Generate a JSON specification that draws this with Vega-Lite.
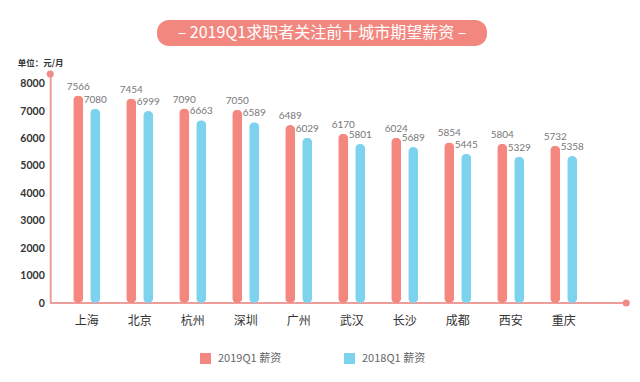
{
  "$schema": "https://vega.github.io/schema/vega-lite/v6.json",
  "background": "white",
  "padding": {"top": 20, "left": 17, "right": 5, "bottom": 5},
  "config": {
    "view": {"stroke": null},
    "font": "Noto Sans CJK SC"
  },
  "datasets": {
    "salary": [
      {"city": "上海", "series": "2019Q1  薪资", "value": 7566},
      {"city": "上海", "series": "2018Q1  薪资", "value": 7080},
      {"city": "北京", "series": "2019Q1  薪资", "value": 7454},
      {"city": "北京", "series": "2018Q1  薪资", "value": 6999},
      {"city": "杭州", "series": "2019Q1  薪资", "value": 7090},
      {"city": "杭州", "series": "2018Q1  薪资", "value": 6663},
      {"city": "深圳", "series": "2019Q1  薪资", "value": 7050},
      {"city": "深圳", "series": "2018Q1  薪资", "value": 6589},
      {"city": "广州", "series": "2019Q1  薪资", "value": 6489},
      {"city": "广州", "series": "2018Q1  薪资", "value": 6029},
      {"city": "武汉", "series": "2019Q1  薪资", "value": 6170},
      {"city": "武汉", "series": "2018Q1  薪资", "value": 5801},
      {"city": "长沙", "series": "2019Q1  薪资", "value": 6024},
      {"city": "长沙", "series": "2018Q1  薪资", "value": 5689},
      {"city": "成都", "series": "2019Q1  薪资", "value": 5854},
      {"city": "成都", "series": "2018Q1  薪资", "value": 5445},
      {"city": "西安", "series": "2019Q1  薪资", "value": 5804},
      {"city": "西安", "series": "2018Q1  薪资", "value": 5329},
      {"city": "重庆", "series": "2019Q1  薪资", "value": 5732},
      {"city": "重庆", "series": "2018Q1  薪资", "value": 5358}
    ]
  },
  "vconcat": [
    {
      "spacing": 0,
      "hconcat": [
        {
          "width": 330,
          "height": 26,
          "view": {"fill": "#F2877F", "cornerRadius": 12, "stroke": null},
          "data": {"values": [{"t": "– 2019Q1求职者关注前十城市期望薪资 –"}]},
          "mark": {"type": "text", "color": "white", "fontSize": 16, "align": "center", "baseline": "middle"},
          "encoding": {"text": {"field": "t"}}
        },
        {
          "width": 36,
          "height": 26,
          "data": {"values": [{"t": ""}]},
          "mark": {"type": "text"},
          "encoding": {"text": {"field": "t"}}
        }
      ]
    },
    {
      "width": 576,
      "height": 229,
      "data": {"name": "salary"},
      "encoding": {
        "x": {
          "field": "city", "type": "nominal", "sort": null,
          "scale": {"range": [10, 540], "paddingInner": 0, "paddingOuter": 0},
          "axis": {"title": null, "labelAngle": 0, "ticks": false, "domain": false, "labelPadding": 12, "labelFontSize": 12, "labelColor": "#333"}
        },
        "y": {
          "field": "value", "type": "quantitative",
          "scale": {"domain": [0, 8350], "nice": false},
          "axis": {
            "title": "单位：元/月", "titleAngle": 0, "titleAlign": "left", "titleBaseline": "middle",
            "titleX": -33, "titleY": -12, "titleFontSize": 8.5, "titleFontWeight": "bold", "titleColor": "#333",
            "values": [0, 1000, 2000, 3000, 4000, 5000, 6000, 7000, 8000], "format": "d",
            "grid": false, "ticks": false, "labelPadding": 6, "labelFontSize": 10.5, "labelFontWeight": "bold", "labelColor": "#333",
            "labelFont": "Lato",
            "domainColor": "#EE9E9A", "domainWidth": 2
          }
        }
      },
      "layer": [
        {
          "mark": {"type": "rule", "color": "#EE9E9A", "strokeWidth": 2},
          "data": {"values": [{"v": 0}]},
          "encoding": {
            "x": {"value": 0},
            "x2": {"value": "width"},
            "y": {"field": "v", "type": "quantitative"}
          }
        },
        {
          "mark": {"type": "bar", "width": 10, "cornerRadius": 5},
          "encoding": {
            "xOffset": {"field": "series", "sort": null, "scale": {"paddingInner": 0, "paddingOuter": 0.56}},
            "color": {
              "field": "series", "type": "nominal", "sort": null,
              "scale": {"range": ["#F4877F", "#7DD2EE"]},
              "legend": {
                "title": null, "orient": "none", "legendX": 150, "legendY": 333, "direction": "horizontal",
                "symbolType": "square", "symbolSize": 121, "symbolStrokeWidth": 0, "labelFontSize": 11, "labelColor": "#666",
                "columnPadding": 60, "labelOffset": 7
              }
            }
          }
        },
        {
          "mark": {"type": "text", "baseline": "bottom", "dy": -4, "fontSize": 10, "color": "#777", "font": "Lato"},
          "encoding": {
            "xOffset": {"field": "series", "sort": null, "scale": {"paddingInner": 0, "paddingOuter": 0.56}},
            "text": {"field": "value", "type": "quantitative"}
          }
        },
        {
          "mark": {"type": "point", "filled": true, "color": "#F08C88", "size": 50, "opacity": 1},
          "data": {"values": [{"p": "top"}]},
          "encoding": {"x": {"value": 0}, "y": {"value": 0}}
        },
        {
          "mark": {"type": "point", "filled": true, "color": "#F08C88", "size": 50, "opacity": 1},
          "data": {"values": [{"p": "end"}]},
          "encoding": {"x": {"value": "width"}, "y": {"value": "height"}}
        }
      ]
    }
  ],
  "center": true,
  "spacing": 12
}
